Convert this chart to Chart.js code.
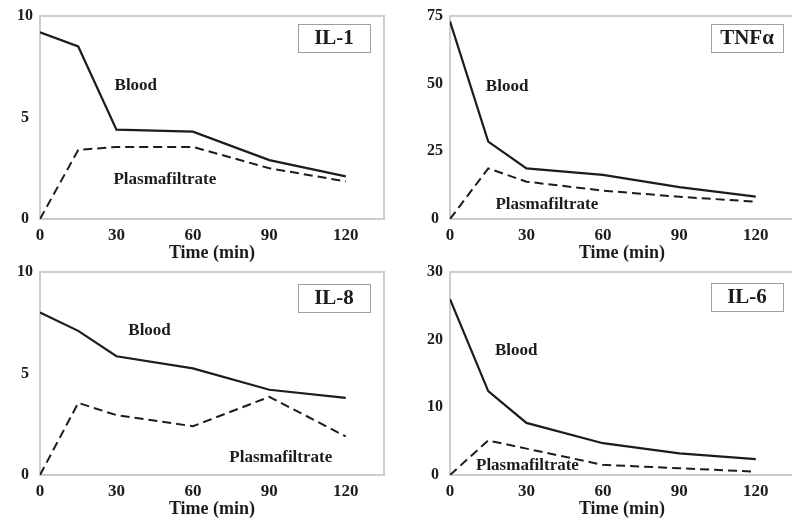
<!DOCTYPE html>
<html>
<head>
<meta charset="utf-8">
<script src="https://cdn.jsdelivr.net/npm/chart.js@4.4.1/dist/chart.umd.min.js"></script>
<style>
  body { margin: 0; background: #fff; width: 792px; height: 523px; overflow: hidden; position: relative; }
  .panel { position: absolute; width: 396px; height: 262px; }
</style>
</head>
<body>
<div class="panel" style="left:0;top:0"><canvas id="il1" width="396" height="262"></canvas></div>
<div class="panel" style="left:410px;top:0"><canvas id="tnf" width="396" height="262"></canvas></div>
<div class="panel" style="left:0;top:256px"><canvas id="il8" width="396" height="262"></canvas></div>
<div class="panel" style="left:410px;top:256px"><canvas id="il6" width="396" height="262"></canvas></div>
<script>
var times = [0, 15, 30, 60, 90, 120];
var xTicks = [0, 30, 60, 90, 120];

var il1Blood = [9.2, 8.5, 4.4, 4.3, 2.9, 2.1];
var il1Filtrate = [0, 3.4, 3.55, 3.55, 2.5, 1.85];
var il1Ticks = [0, 5, 10];

var tnfBlood = [73, 28.6, 18.7, 16.3, 11.8, 8.3];
var tnfFiltrate = [0, 18.7, 13.8, 10.5, 8.2, 6.4];
var tnfTicks = [0, 25, 50, 75];

var il8Blood = [8.0, 7.1, 5.85, 5.25, 4.2, 3.8];
var il8Filtrate = [0, 3.55, 2.95, 2.4, 3.85, 1.9];
var il8Ticks = [0, 5, 10];

var il6Blood = [26, 12.4, 7.7, 4.7, 3.2, 2.35];
var il6Filtrate = [0, 5.1, 3.9, 1.5, 1.0, 0.5];
var il6Ticks = [0, 10, 20, 30];

var SERIF = '"Liberation Serif", "Times New Roman", serif';
var INK = '#1c1c1c';

function points(vals) {
  return vals.map(function(v, i) { return { x: times[i], y: v }; });
}

// frame round the plot, curve names and the boxed cytokine name
var decor = {
  id: 'decor',
  beforeDatasetsDraw: function(chart) {
    var ctx = chart.ctx, a = chart.chartArea;
    ctx.save();
    ctx.strokeStyle = '#cdcdcd';
    ctx.lineWidth = 2;
    ctx.strokeRect(a.left, a.top, a.right - a.left, a.bottom - a.top);
    ctx.restore();
  },
  afterDatasetsDraw: function(chart) {
    var ctx = chart.ctx, a = chart.chartArea, o = chart.options.plugins.decor;
    var xs = chart.scales.x, ys = chart.scales.y;
    ctx.save();
    ctx.fillStyle = INK;
    ctx.textAlign = 'center';
    ctx.textBaseline = 'middle';
    ctx.font = 'bold 17px ' + SERIF;
    o.notes.forEach(function(n) {
      ctx.fillText(n.text, xs.getPixelForValue(n.x), ys.getPixelForValue(n.y));
    });
    var bw = 72, bh = 28;
    var bx = a.right - o.boxRight - bw, by = a.top + o.boxTop;
    ctx.fillStyle = '#fff';
    ctx.fillRect(bx, by, bw, bh);
    ctx.strokeStyle = '#a0a0a0';
    ctx.lineWidth = 1;
    ctx.strokeRect(bx + 0.5, by + 0.5, bw, bh);
    ctx.fillStyle = INK;
    ctx.font = 'bold 21px ' + SERIF;
    ctx.fillText(o.name, bx + bw / 2, by + bh / 2 + 1);
    ctx.restore();
  }
};

var panels = [
  { id: 'il1', name: 'IL-1', blood: il1Blood, filtrate: il1Filtrate, ticks: il1Ticks,
    bloodAt: [37.6, 6.55], filtrateAt: [49, 1.92], boxRight: 14, boxTop: 8 },
  { id: 'tnf', name: 'TNF\u03b1', blood: tnfBlood, filtrate: tnfFiltrate, ticks: tnfTicks,
    bloodAt: [22.4, 48.8], filtrateAt: [38, 5.5], boxRight: 11, boxTop: 8 },
  { id: 'il8', name: 'IL-8', blood: il8Blood, filtrate: il8Filtrate, ticks: il8Ticks,
    bloodAt: [43, 7.1], filtrateAt: [94.5, 0.85], boxRight: 14, boxTop: 12 },
  { id: 'il6', name: 'IL-6', blood: il6Blood, filtrate: il6Filtrate, ticks: il6Ticks,
    bloodAt: [26, 18.4], filtrateAt: [30.4, 1.37], boxRight: 11, boxTop: 11 }
];

panels.forEach(function(p) {
  var yTicks = p.ticks;
  new Chart(document.getElementById(p.id), {
    type: 'line',
    data: {
      datasets: [
        {
          label: 'Blood',
          data: points(p.blood),
          borderColor: INK,
          borderWidth: 2.2,
          pointRadius: 0,
          tension: 0
        },
        {
          label: 'Plasmafiltrate',
          data: points(p.filtrate),
          borderColor: INK,
          borderWidth: 2,
          borderDash: [9, 5],
          pointRadius: 0,
          tension: 0
        }
      ]
    },
    options: {
      responsive: false,
      animation: false,
      layout: { padding: { top: 16, right: 12, left: 0, bottom: 0 } },
      plugins: {
        legend: { display: false },
        tooltip: { enabled: false },
        decor: {
          name: p.name,
          boxRight: p.boxRight,
          boxTop: p.boxTop,
          notes: [
            { text: 'Blood', x: p.bloodAt[0], y: p.bloodAt[1] },
            { text: 'Plasmafiltrate', x: p.filtrateAt[0], y: p.filtrateAt[1] }
          ]
        }
      },
      scales: {
        x: {
          type: 'linear',
          min: 0,
          max: 135,
          grid: { display: false, drawTicks: false },
          border: { display: false },
          afterBuildTicks: function(s) { s.ticks = xTicks.map(function(v) { return { value: v }; }); },
          afterFit: function(s) { s.height = 43; },
          ticks: {
            padding: 8,
            color: INK,
            font: { family: SERIF, size: 17, weight: 'bold', lineHeight: 1 }
          },
          title: {
            display: true,
            text: 'Time (min)',
            color: INK,
            padding: 0,
            font: { family: SERIF, size: 18, weight: 'bold', lineHeight: 1 }
          }
        },
        y: {
          min: yTicks[0],
          max: yTicks[yTicks.length - 1],
          grid: { display: false, drawTicks: false },
          border: { display: false },
          afterBuildTicks: function(s) { s.ticks = yTicks.map(function(v) { return { value: v }; }); },
          afterFit: function(s) { s.width = 40; },
          ticks: {
            padding: 7,
            crossAlign: 'center',
            color: INK,
            font: { family: SERIF, size: 16, weight: 'bold', lineHeight: 1 }
          }
        }
      }
    },
    plugins: [decor]
  });
});
</script>
</body>
</html>
